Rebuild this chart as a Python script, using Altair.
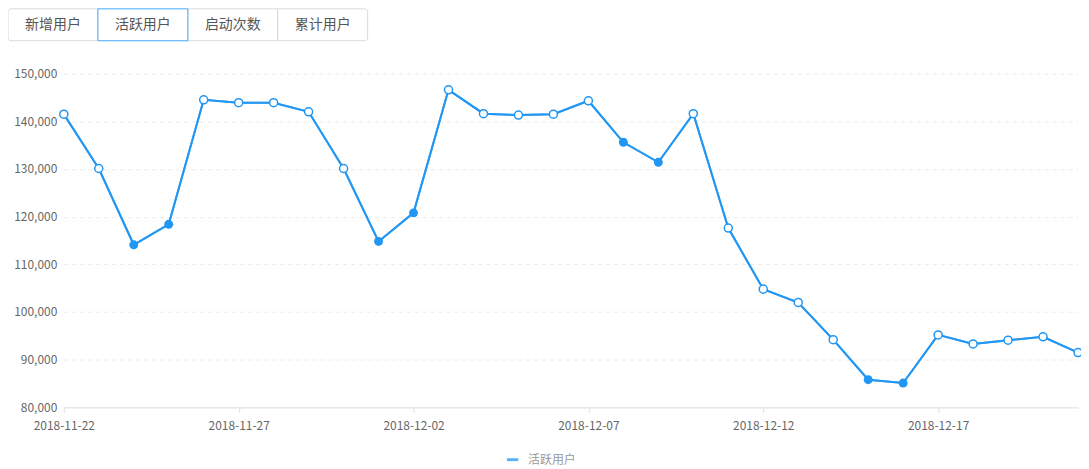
import altair as alt
import pandas as pd

# ---- data ----
dates = pd.date_range("2018-11-22", "2018-12-21", freq="D").strftime("%Y-%m-%d").tolist()
active_users = [141500, 130100, 114100, 118400, 144500, 143900, 143900, 142000, 130100, 114800,
                120800, 146600, 141600, 141300, 141500, 144300, 135600, 131400, 141600, 117600,
                104800, 102000, 94200, 85800, 85100, 95200, 93300, 94100, 94800, 91500]
series_name = "活跃用户"
tabs = ["新增用户", "活跃用户", "启动次数", "累计用户"]
selected_tab = "活跃用户"
y_ticks = [80000, 90000, 100000, 110000, 120000, 130000, 140000, 150000]
x_tick_dates = ["2018-11-22", "2018-11-27", "2018-12-02", "2018-12-07", "2018-12-12", "2018-12-17"]

BLUE = "#2196f3"
W, H = 1018, 335
FONT = "Noto Sans CJK SC"

df = pd.DataFrame({"date": dates, "value": active_users})
df["series"] = series_name
df["weekend"] = pd.to_datetime(df["date"]).dt.weekday >= 5

def dt(s):
    y, m, d = map(int, s.split("-"))
    return alt.DateTime(year=y, month=m, date=d, utc=True)

x_enc = alt.X(
    "date:T",
    scale=alt.Scale(type="utc", domain=[dt(dates[0]), dt(dates[-1])], nice=False),
    axis=alt.Axis(
        title=None, values=[dt(s) for s in x_tick_dates],
        labelExpr="utcFormat(datum.value, '%Y-%m-%d')", labelAlign="center",
        grid=False, domainColor="#e0e0e0", tickColor="#e0e0e0", tickSize=5,
        labelColor="#666666", labelFontSize=12, labelPadding=8, labelFont=FONT,
    ),
)
y_enc = alt.Y(
    "value:Q",
    scale=alt.Scale(domain=[80000, 150000], nice=False, zero=False),
    axis=alt.Axis(
        title=None, values=y_ticks, format=",d", domain=False, ticks=False,
        grid=True, gridColor="#ebebeb", gridDash=[4, 4], gridWidth=1,
        labelColor="#666666", labelFontSize=12, labelPadding=7, labelFont=FONT,
    ),
)

base = alt.Chart(df)

line = base.mark_line(strokeWidth=2).encode(
    x=x_enc, y=y_enc,
    color=alt.Color(
        "series:N",
        scale=alt.Scale(domain=[series_name], range=["#5cb3f5"]),
        legend=alt.Legend(
            title=None, orient="none", legendX=443, legendY=380, symbolType="stroke",
            symbolStrokeWidth=3, symbolSize=130, labelColor="#999999", labelFontSize=12,
            labelFont=FONT, labelOffset=8,
        ),
    ),
)

line_draw = base.mark_line(strokeWidth=2, color=BLUE).encode(x=x_enc, y=y_enc)

hollow = base.transform_filter("!datum.weekend").mark_point(
    filled=True, fill="white", stroke=BLUE, strokeWidth=1.5, size=65, opacity=1, shape="circle"
).encode(x=x_enc, y=y_enc)

solid = base.transform_filter("datum.weekend").mark_circle(
    color=BLUE, size=80, opacity=1
).encode(x=x_enc, y=y_enc)

# ---- tabs ----
tab_layers = []
tab_w = 90.25
tab_top, tab_bot = -65, -33
left0 = -56
sel_layer = []
for i, t in enumerate(tabs):
    x0 = left0 + i * tab_w
    x1 = x0 + tab_w
    kw = {}
    if i == 0:
        kw = dict(cornerRadiusTopLeft=3, cornerRadiusBottomLeft=3)
    elif i == len(tabs) - 1:
        kw = dict(cornerRadiusTopRight=3, cornerRadiusBottomRight=3)
    sel = t == selected_tab
    rect = alt.Chart(pd.DataFrame({"t": [t]})).mark_rect(
        fill="white", stroke="#40a9ff" if sel else "#d9d9d9", strokeWidth=1, **kw
    ).encode(x=alt.value(x0), x2=alt.value(x1), y=alt.value(tab_top), y2=alt.value(tab_bot))
    txt = alt.Chart(pd.DataFrame({"t": [t]})).mark_text(
        font=FONT, fontSize=14, color="#555555", align="center", baseline="middle"
    ).encode(x=alt.value((x0 + x1) / 2), y=alt.value((tab_top + tab_bot) / 2), text="t:N")
    if sel:
        sel_layer += [rect, txt]
    else:
        tab_layers += [rect, txt]

chart = alt.layer(
    line, line_draw, hollow, solid, *tab_layers, *sel_layer
).properties(
    width=W, height=H,
    autosize=alt.AutoSizeParams(type="none"),
    padding={"left": 56, "top": 65, "right": 3, "bottom": 62},
).configure_view(stroke=None)

chart.save("out.html", embed_options={"renderer": "svg", "actions": False})
